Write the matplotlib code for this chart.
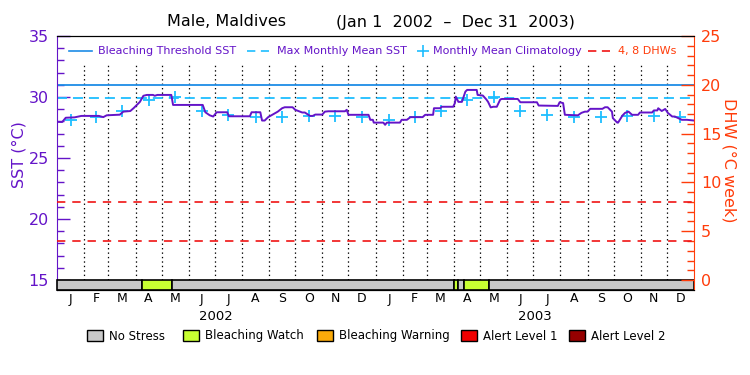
import matplotlib
matplotlib.use("Agg")
import matplotlib.pyplot as plt
import numpy as np
from matplotlib.patches import Rectangle
from matplotlib.lines import Line2D
from matplotlib import transforms

plt.rcParams['font.family'] = 'DejaVu Sans'
plt.rcParams['lines.scale_dashes'] = False

# ---- data (x = days since Jan 1 2002) ----
sst_day = [0, 6, 10, 20, 28, 48, 53, 57, 72, 76, 84, 88, 95, 99, 103, 110, 112, 115, 131,
           133, 167, 170, 175, 179, 183, 195, 197, 221, 223, 233, 235, 238, 242, 253, 258,
           261, 270, 273, 281, 284, 290, 293, 296, 304, 307, 311, 330, 332, 334, 357, 359,
           362, 363, 374, 376, 378, 393, 395, 401, 405, 419, 422, 431, 432, 439, 441, 454,
           456, 457, 460, 464, 468, 470, 481, 482, 488, 492, 494, 497, 500, 504, 508, 510,
           528, 531, 550, 552, 574, 576, 580, 582, 597, 601, 605, 608, 611, 625, 628, 631,
           636, 637, 642, 643, 648, 651, 655, 659, 666, 668, 682, 684, 688, 689, 693, 697,
           700, 705, 708, 711, 716, 722, 730]
sst_val = [27.96, 27.95, 28.3, 28.33, 28.45, 28.45, 28.35, 28.5, 28.55, 28.8, 28.85, 29.1,
           29.6, 30.1, 30.17, 30.17, 30.1, 30.17, 30.17,
           29.35, 29.35, 28.75, 28.5, 28.4, 28.75, 28.75, 28.42, 28.42, 28.75, 28.75, 28.07,
           28.07, 28.35, 28.8, 29.08,
           29.16, 29.16, 28.95, 28.73, 28.73, 28.45, 28.45, 28.56, 28.56, 28.8, 28.83, 28.83,
           28.95, 28.54, 28.54, 28.13,
           28.13, 27.9, 27.9, 27.72, 27.9, 27.9, 28.13, 28.13, 28.35, 28.35, 28.54, 28.54,
           29.08, 29.08, 29.2, 29.2,
           29.5, 30.03, 29.6, 29.6, 30.44, 30.58, 30.58, 30.17, 30.12, 29.8, 29.6, 29.15,
           29.2, 29.2, 29.8, 29.84,
           29.84, 29.57, 29.57, 29.3, 29.27, 29.57, 29.5, 28.54, 28.5, 28.7, 28.8, 28.8, 29.03,
           29.03, 29.16, 29.16,
           28.8, 28.27, 27.9, 27.9, 28.48, 28.7, 28.8, 28.54, 28.54, 28.73, 28.73, 28.9, 28.9,
           29.08, 28.85, 29.02,
           28.7, 28.4, 28.4, 28.3, 28.13, 28.13, 28.07]

month_len = [31, 28, 31, 30, 31, 30, 31, 31, 30, 31, 30, 31] * 2
month_lbl = ['J', 'F', 'M', 'A', 'M', 'J', 'J', 'A', 'S', 'O', 'N', 'D'] * 2
years = ['2002', '2003']

clim = [28.1, 28.35, 28.88, 29.73, 30.0, 28.88, 28.5, 28.38, 28.33, 28.48, 28.47, 28.35]
mmm = 29.95
threshold = 30.95
dhw_lines = [4, 8]

# stress strip: start day, end day, level (0 = no stress, 1 = watch)
seg_start = [0, 97, 132, 455, 459, 466.5, 494.5]
seg_end = [97, 132, 455, 459, 466.5, 494.5, 730]
seg_level = [0, 1, 0, 1, 0, 1, 0]

stress_names = ['No Stress', 'Bleaching Watch', 'Bleaching Warning', 'Alert Level 1', 'Alert Level 2']
stress_colors = ['#c8c8c8', '#c8ff32', '#faaa0a', '#f00000', '#960000']

purple = '#6414c8'
orange = '#ff3c0a'
blue = '#1e8ce6'
cyan = '#1ebeff'
red = '#f01414'

W, H = 750, 375
fig = plt.figure(figsize=(7.5, 3.75), dpi=100)

def fx(px):
    return px / W

def fy(py):
    return 1 - py / H

x0, x1, y0, y1 = 57, 694, 36, 290
ax = fig.add_axes([fx(x0), fy(y1), fx(x1 - x0), (y1 - y0) / H])
ax.set_xlim(0, 730)
ax.set_ylim(14.18, 35)

# month boundaries (dotted)
edges = np.cumsum([0] + month_len)
for e in edges[1:-1]:
    ax.plot([e, e], [15, 32.8], color='black', lw=0.9, ls=(0, (1, 2.2)), zorder=1)

ax.axhline(threshold, color=blue, lw=1.3, zorder=2)
ax.axhline(mmm, color=cyan, lw=1.3, ls=(0, (7.2, 4.3)), zorder=2)

mid = (edges[:-1] + edges[1:]) / 2.0
ax.plot(mid, clim * 2, ls='none', marker='+', ms=9, mew=1.3, color=cyan, zorder=3)
ax.plot(sst_day, sst_val, color=purple, lw=1.4, zorder=4)

for s, e, lv in zip(seg_start, seg_end, seg_level):
    ax.add_patch(Rectangle((s, 14.18), e - s, 0.82, fc=stress_colors[lv], ec='black',
                           lw=1.2, zorder=5, clip_on=False))

ax.set_xticks([])
ax.set_yticks(range(15, 36, 5))
ax.set_yticks(range(15, 36), minor=True)
ax.tick_params(axis='y', which='both', direction='in', colors=purple, labelsize=11.5, pad=6)
ax.tick_params(axis='y', which='major', length=9.5, width=1)
ax.tick_params(axis='y', which='minor', length=5, width=1)
ax.spines['left'].set_color(purple)
ax.spines['right'].set_visible(False)
ax.set_ylabel('SST (°C)', color=purple, fontsize=11.5)
ax.yaxis.set_label_coords((26 - x0) / (x1 - x0), (y1 - 155) / (y1 - y0))

ax2 = ax.twinx()
ax2.set_ylim(-1.02, 25)
for d in dhw_lines:
    ax2.axhline(d, color=red, lw=1.2, ls=(0, (6, 5)), zorder=2)
ax2.set_xticks([])
ax2.set_yticks(range(0, 26, 5))
ax2.set_yticks(range(0, 26), minor=True)
ax2.tick_params(axis='y', which='both', direction='in', colors=orange, labelsize=11.5, pad=5)
ax2.tick_params(axis='y', which='major', length=9.5, width=1)
ax2.tick_params(axis='y', which='minor', length=5, width=1)
ax2.spines['right'].set_color(orange)
ax2.spines['left'].set_visible(False)
ax2.set_ylabel('DHW (°C week)', color=orange, fontsize=11.5, rotation=270, va='bottom')
ax2.yaxis.set_label_coords((722 - x0) / (x1 - x0), (y1 - 160) / (y1 - y0))

# month and year labels
tr = transforms.blended_transform_factory(ax.transData, fig.transFigure)
for m, lbl in zip(mid, month_lbl):
    ax.text(m, fy(299), lbl, transform=tr, ha='center', va='center', fontsize=9)
for i, yr in enumerate(years):
    ax.text(182.5 + 365 * i, fy(316), yr, transform=tr, ha='center', va='center', fontsize=9.5)

fig.text(fx(227), fy(22), 'Male, Maldives', ha='center', va='center', fontsize=11.5)
fig.text(fx(455), fy(22), '(Jan 1  2002  \u2013  Dec 31  2003)', ha='center', va='center',
         fontsize=11.5)

# top legend
ly = fy(51)
fs_leg = 8
fig.add_artist(Line2D([fx(69), fx(92)], [ly, ly], color=blue, lw=1.2))
fig.text(fx(98), ly, 'Bleaching Threshold SST', color=purple, fontsize=fs_leg, va='center')
fig.add_artist(Line2D([fx(247), fx(269)], [ly, ly], color=cyan, lw=1.2, ls=(0, (6, 4))))
fig.text(fx(277), ly, 'Max Monthly Mean SST', color=purple, fontsize=fs_leg, va='center')
fig.add_artist(Line2D([fx(423)], [ly], color=cyan, marker='+', ms=8, mew=1.2, ls='none'))
fig.text(fx(433), ly, 'Monthly Mean Climatology', color=purple, fontsize=fs_leg, va='center')
fig.add_artist(Line2D([fx(588), fx(610)], [ly, ly], color=red, lw=1.2, ls=(0, (6, 4))))
fig.text(fx(618), ly, '4, 8 DHWs', color=orange, fontsize=fs_leg, va='center')

# bottom legend
box_x = [87, 183, 317, 461, 569]
for bx, name, col in zip(box_x, stress_names, stress_colors):
    fig.add_artist(Rectangle((fx(bx), fy(341)), fx(16), 11 / H, fc=col, ec='black',
                             lw=1, transform=fig.transFigure))
    fig.text(fx(bx + 22), fy(336), name, fontsize=8.5, va='center')

fig.savefig('out.png', dpi=100)
